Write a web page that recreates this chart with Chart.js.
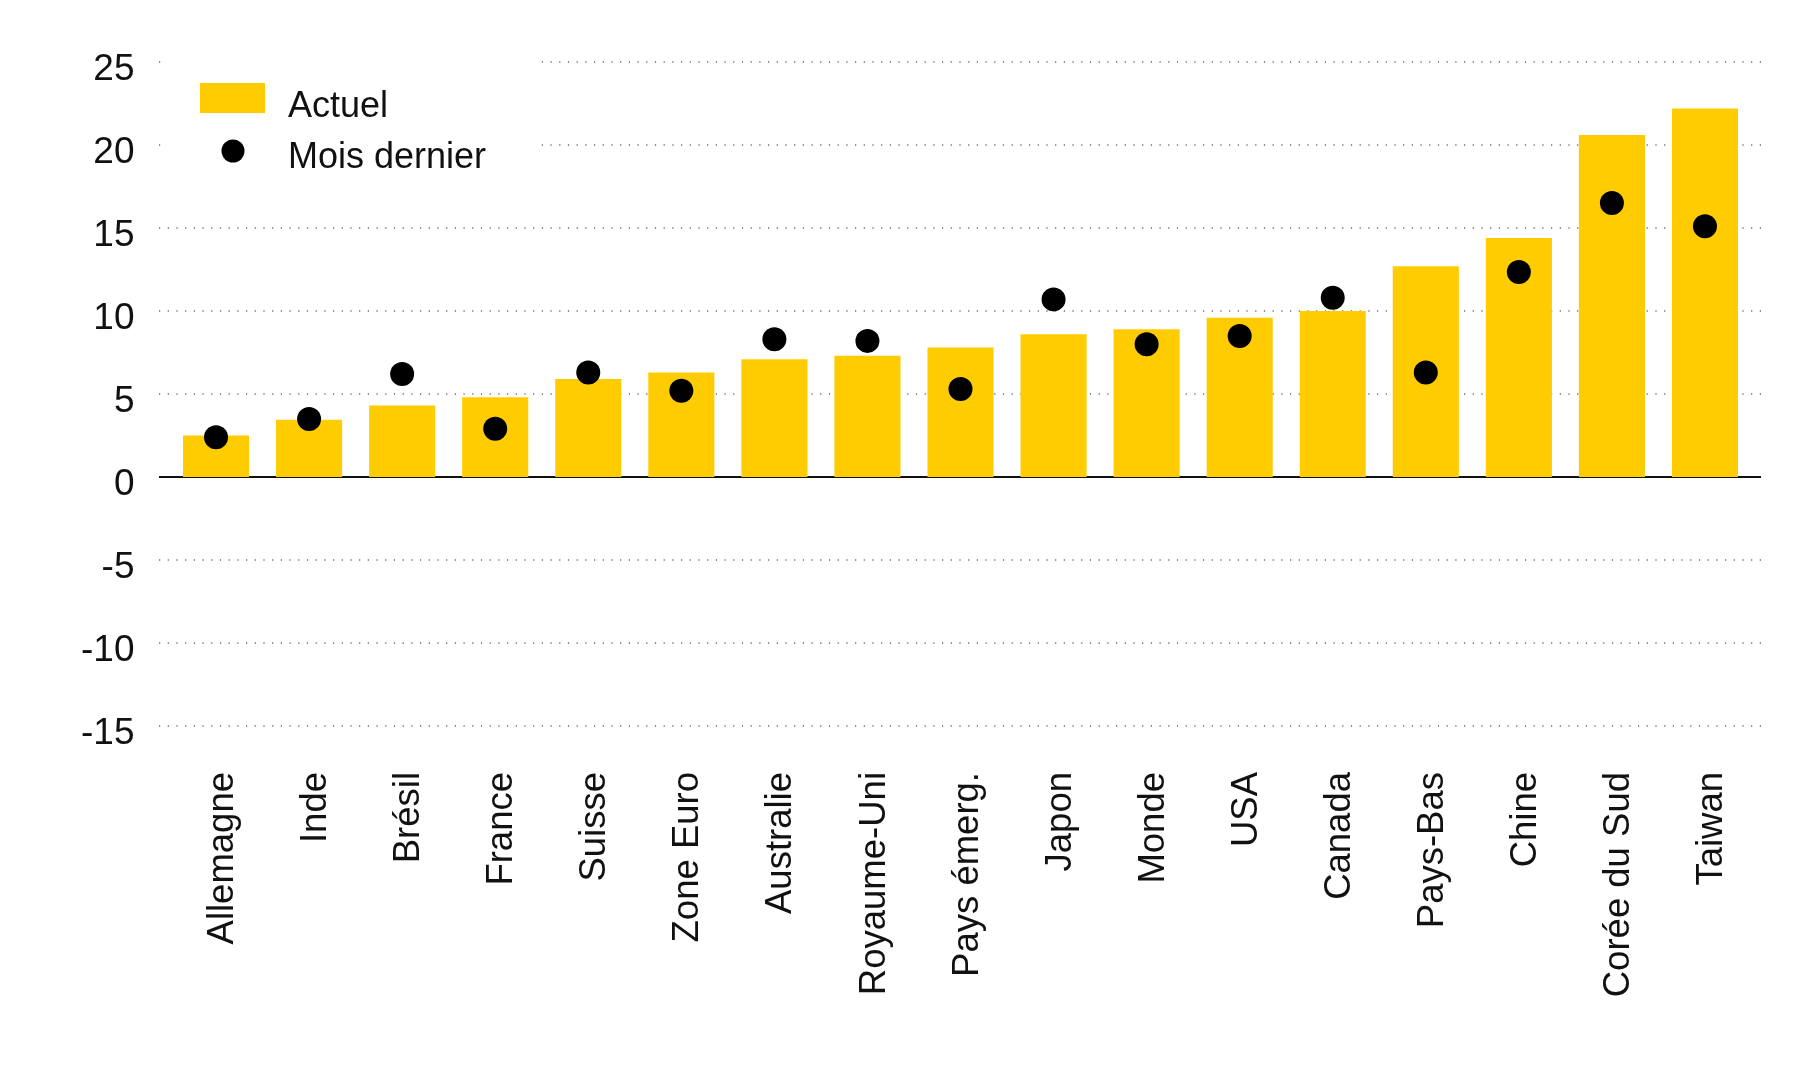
<!DOCTYPE html>
<html>
<head>
<meta charset="utf-8">
<script src="https://cdn.jsdelivr.net/npm/chart.js@4.4.1/dist/chart.umd.min.js"></script>
<style>
  html, body { margin: 0; padding: 0; background: #ffffff; }
  #wrap { width: 1800px; height: 1080px; position: relative; }
</style>
</head>
<body>
<div id="wrap"><canvas id="c"></canvas></div>
<script>
const categories = ["Allemagne", "Inde", "Brésil", "France", "Suisse", "Zone Euro", "Australie", "Royaume-Uni", "Pays émerg.", "Japon", "Monde", "USA", "Canada", "Pays-Bas", "Chine", "Corée du Sud", "Taiwan"];
const actuel = [2.5, 3.45, 4.3, 4.8, 5.9, 6.3, 7.1, 7.3, 7.8, 8.6, 8.9, 9.6, 10.0, 12.7, 14.4, 20.6, 22.2];
const moisDernier = [2.4, 3.5, 6.2, 2.9, 6.3, 5.2, 8.3, 8.2, 5.3, 10.7, 8.0, 8.5, 10.8, 6.3, 12.35, 16.5, 15.1];
const yTicks = [-15, -10, -5, 0, 5, 10, 15, 20, 25];
const seriesNames = ["Actuel", "Mois dernier"];

const FONT = "'Liberation Sans', Arial, sans-serif";
const YELLOW = "#FECC00";

const gridPlugin = {
  id: "customGrid",
  beforeDatasetsDraw(chart) {
    const ctx = chart.ctx;
    const y = chart.scales.y;
    const area = chart.chartArea;
    const x0 = area.left - 10.5;
    const x1 = area.right + 9.5;
    ctx.save();
    yTicks.forEach(v => {
      const py = Math.round(y.getPixelForValue(v));
      ctx.beginPath();
      if (v === 0) {
        ctx.setLineDash([]);
        ctx.strokeStyle = "#111111";
        ctx.lineWidth = 2;
      } else {
        ctx.setLineDash([1.2, 7.5]);
        ctx.strokeStyle = "#8f8f8f";
        ctx.lineWidth = 2;
      }
      ctx.moveTo(x0, py);
      ctx.lineTo(x1, py);
      ctx.stroke();
    });
    ctx.restore();
  },
  afterDatasetsDraw(chart) {
    const ctx = chart.ctx;
    const ds = chart.data.datasets;
    const barDs = ds.find(d => d.type === "bar");
    const dotDs = ds.find(d => d.type === "line");
    ctx.save();
    ctx.fillStyle = "#ffffff";
    ctx.fillRect(163, 40, 376, 140);
    ctx.fillStyle = barDs.backgroundColor;
    ctx.fillRect(200, 83, 65, 30);
    ctx.beginPath();
    ctx.fillStyle = dotDs.pointBackgroundColor;
    ctx.arc(233, 151, 11.5, 0, Math.PI * 2);
    ctx.fill();
    ctx.fillStyle = "#111111";
    ctx.font = "36px " + FONT;
    ctx.textAlign = "left";
    ctx.textBaseline = "alphabetic";
    ctx.fillText(barDs.label, 288, 117);
    ctx.fillText(dotDs.label, 288, 168);
    ctx.restore();
  }
};

new Chart(document.getElementById("c"), {
  type: "bar",
  data: {
    labels: categories,
    datasets: [
      {
        type: "line",
        label: seriesNames[1],
        data: moisDernier,
        showLine: false,
        pointRadius: 12,
        pointHoverRadius: 12,
        pointBackgroundColor: "#000000",
        pointBorderWidth: 0,
        borderColor: "#000000",
        order: 0
      },
      {
        type: "bar",
        label: seriesNames[0],
        data: actuel,
        backgroundColor: YELLOW,
        borderWidth: 0,
        barPercentage: 0.71,
        categoryPercentage: 1.0,
        order: 1
      }
    ]
  },
  options: {
    responsive: true,
    maintainAspectRatio: false,
    devicePixelRatio: 1,
    animation: false,
    layout: { padding: { top: 62, right: 48.5, left: 0, bottom: 0 } },
    plugins: {
      legend: { display: false },
      tooltip: { enabled: false }
    },
    scales: {
      x: {
        grid: { display: false, drawTicks: false },
        border: { display: false },
        ticks: {
          color: "#111111",
          font: { family: FONT, size: 36.5 },
          minRotation: 90,
          maxRotation: 90,
          autoSkip: false,
          padding: 46,
          labelOffset: 7
        },
        afterFit(scale) { scale.height = 354; }
      },
      y: {
        min: -15,
        max: 25,
        grid: { display: false, drawTicks: false },
        border: { display: false },
        ticks: {
          stepSize: 5,
          color: "#111111",
          font: { family: FONT, size: 37 },
          padding: 35,
          labelOffset: 8
        },
        afterFit(scale) { scale.width = 169.5; }
      }
    }
  },
  plugins: [gridPlugin]
});
</script>
</body>
</html>
